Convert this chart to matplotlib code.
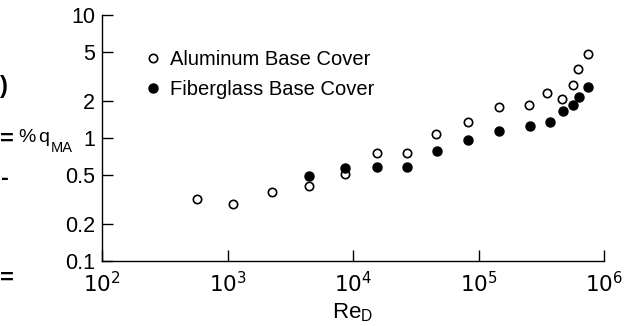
import numpy as np
import matplotlib.pyplot as plt

plt.rcParams['font.family'] = ['Liberation Sans', 'DejaVu Sans']

# Aluminum base cover
re_al = [572, 1112, 2275, 4460, 8630, 15600, 27100, 45600, 83000, 145000,
         252000, 353000, 465000, 563000, 624000, 750000]
q_al = [0.318, 0.292, 0.366, 0.407, 0.509, 0.75, 0.75, 1.07, 1.36, 1.79,
        1.84, 2.31, 2.09, 2.70, 3.61, 4.79]

# Fiberglass base cover
re_fg = [4460, 8630, 15600, 27100, 46500, 83000, 145000, 257000, 369000,
         474000, 563000, 628000, 750000]
q_fg = [0.494, 0.566, 0.585, 0.585, 0.783, 0.958, 1.14, 1.25, 1.36,
        1.66, 1.85, 2.17, 2.58]

xticks = [1e2, 1e3, 1e4, 1e5, 1e6]
xticklabels = ['$10^2$', '$10^3$', '$10^4$', '$10^5$', '$10^6$']
yticks = [0.1, 0.2, 0.5, 1, 2, 5, 10]
yticklabels = ['0.1', '0.2', '0.5', '1', '2', '5', '10']

W, H = 632, 326
fig = plt.figure(figsize=(W/100, H/100), dpi=100)
ax = fig.add_axes([102/W, 1 - 261/H, (604 - 102)/W, (261 - 15)/H])

ax.plot(re_al, q_al, 'o', mfc='white', mec='black', mew=1.2, ms=6,
        label='Aluminum Base Cover', zorder=3)
ax.plot(re_fg, q_fg, 'o', mfc='black', mec='black', ms=6.5,
        label='Fiberglass Base Cover', zorder=3)

ax.set_xscale('log')
ax.set_yscale('log')
ax.set_xlim(1e2, 1e6)
ax.set_ylim(0.1, 10)
ax.minorticks_off()
ax.set_xticks(xticks)
ax.set_xticklabels(xticklabels)
ax.set_yticks(yticks)
ax.set_yticklabels(yticklabels)
ax.tick_params(direction='in', length=8, width=1, labelsize=15.5)
ax.tick_params(axis='y', pad=5)
ax.tick_params(axis='x', pad=8)
ax.spines['top'].set_visible(False)
ax.spines['right'].set_visible(False)
for s in ('left', 'bottom'):
    ax.spines[s].set_linewidth(1)

ax.legend(loc='upper left', bbox_to_anchor=(0.07, 0.90), frameon=False,
          fontsize=14.5, handlelength=0.6, handletextpad=0.55,
          labelspacing=0.55, borderpad=0)

# y label: "% q" with a large MA subscript
fig.text(18/W, 1 - 142/H, '%', fontsize=14, ha='left', va='baseline')
fig.text(38/W, 1 - 142/H, 'q', fontsize=14, ha='left', va='baseline')
fig.text(51/W, 1 - 152/H, 'MA', fontsize=10.5, ha='left', va='baseline')
ax.set_xlabel('Re$_{\\mathregular{D}}$', fontsize=16, labelpad=3)

# bits of text at the left edge
fig.text(0, 1 - 86/H, ')', fontsize=17, fontweight='bold', va='center')
fig.text(0, 1 - 139/H, '=', fontsize=17, fontweight='bold', va='center')
fig.text(0, 1 - 178/H, '-', fontsize=17, fontweight='bold', va='center')
fig.text(0, 1 - 278/H, '=', fontsize=17, fontweight='bold', va='center')

fig.savefig('out.png', dpi=100)
